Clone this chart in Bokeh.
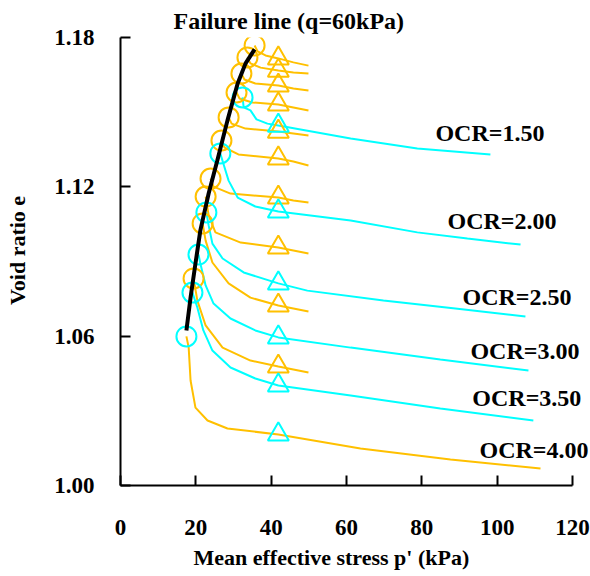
from bokeh.plotting import figure
from bokeh.models import Label, FixedTicker, NumeralTickFormatter, Range1d, Title
from bokeh.embed import file_html
from bokeh.resources import INLINE

# ---------------- data (p' in kPa, e) ----------------
# failure line (q = 60 kPa)
fail_p = [17.5, 18.6, 19.9, 21.2, 23.4, 25.7, 28.4, 31.1, 33.2, 35.6]
fail_e = [1.0623, 1.0755, 1.0892, 1.1025, 1.1173, 1.1306, 1.1467, 1.1615, 1.1696, 1.1752]

# cyan (long) curves, labelled by OCR
ocr150_p = [32.4, 32.7, 34.5, 36.1, 39.0, 41.9, 61.1, 78.8, 98.2]
ocr150_e = [1.1559, 1.1519, 1.1507, 1.1471, 1.1454, 1.1446, 1.1394, 1.1354, 1.1330]
ocr200_p = [26.5, 27.3, 28.7, 31.1, 35.8, 41.9, 61.1, 78.8, 92.1, 106.2]
ocr200_e = [1.1334, 1.1294, 1.1225, 1.1157, 1.1121, 1.1101, 1.1065, 1.1017, 1.0992, 1.0968]
ocr250_p = [22.8, 23.4, 24.4, 27.1, 32.7, 41.9, 49.6, 69.8, 88.9, 107.5]
ocr250_e = [1.1097, 1.1045, 1.0972, 1.0912, 1.0856, 1.0812, 1.0783, 1.0743, 1.0711, 1.0679]
ocr300_p = [20.7, 21.2, 22.6, 24.7, 29.2, 35.8, 41.9, 61.1, 84.9, 108.3]
ocr300_e = [1.0928, 1.0892, 1.0804, 1.0731, 1.0671, 1.0623, 1.0595, 1.0554, 1.0506, 1.0462]
ocr350_p = [19.1, 20.4, 22.0, 24.4, 29.2, 35.8, 41.9, 61.1, 84.9, 109.6]
ocr350_e = [1.0775, 1.0715, 1.0623, 1.0542, 1.0474, 1.0430, 1.0402, 1.0362, 1.0309, 1.0261]
# OCR = 4.00 (drawn in gold)
ocr400_p = [17.5, 18.1, 18.6, 19.9, 23.1, 28.4, 41.9, 63.7, 87.6, 111.5]
ocr400_e = [1.0599, 1.0554, 1.0422, 1.0313, 1.0261, 1.0229, 1.0205, 1.0149, 1.0104, 1.0068]

# gold (short) curves
g1_p = [35.6, 36.4, 38.5, 41.9, 45.9, 49.9]
g1_e = [1.1768, 1.1744, 1.1728, 1.1716, 1.1700, 1.1687]
g2_p = [33.7, 34.5, 37.2, 41.9, 45.9, 49.9]
g2_e = [1.1720, 1.1696, 1.1679, 1.1667, 1.1659, 1.1655]
g3_p = [32.1, 32.9, 35.8, 41.9, 45.9, 49.9]
g3_e = [1.1655, 1.1631, 1.1615, 1.1607, 1.1595, 1.1587]
g4_p = [30.8, 31.6, 35.0, 41.9, 45.9, 49.9]
g4_e = [1.1579, 1.1555, 1.1539, 1.1531, 1.1519, 1.1507]
g5_p = [28.7, 29.5, 33.2, 41.9, 45.9, 49.9]
g5_e = [1.1479, 1.1454, 1.1434, 1.1422, 1.1414, 1.1406]
g6_p = [26.8, 27.6, 31.3, 41.9, 45.9, 49.9]
g6_e = [1.1386, 1.1358, 1.1330, 1.1314, 1.1302, 1.1286]
g7_p = [23.9, 24.7, 29.2, 41.9, 45.9, 49.9]
g7_e = [1.1233, 1.1201, 1.1173, 1.1157, 1.1145, 1.1137]
g8_p = [22.6, 23.4, 25.2, 31.9, 41.9, 45.9, 49.9]
g8_e = [1.1161, 1.1085, 1.1017, 1.0976, 1.0956, 1.0944, 1.0932]
g9_p = [21.8, 22.6, 24.4, 28.7, 34.5, 41.9, 45.9, 49.9]
g9_e = [1.1053, 1.0984, 1.0896, 1.0812, 1.0755, 1.0723, 1.0711, 1.0699]
g10_p = [19.4, 20.4, 22.6, 27.1, 34.5, 41.9, 45.9, 49.9]
g10_e = [1.0832, 1.0743, 1.0643, 1.0554, 1.0502, 1.0478, 1.0466, 1.0454]

ocr_labels = ["OCR=1.50", "OCR=2.00", "OCR=2.50", "OCR=3.00", "OCR=3.50", "OCR=4.00"]
ocr_label_p = [83.6, 86.8, 90.8, 92.9, 93.4, 95.3]
ocr_label_e = [1.1415, 1.1061, 1.0759, 1.0542, 1.0353, 1.0144]

x_ticks = [0, 20, 40, 60, 80, 100, 120]
y_ticks = [1.00, 1.06, 1.12, 1.18]

GOLD = "#FFC000"
CYAN = "#00FFFF"
FONT = "Liberation Serif"

# frame extends a little past p'=120 so the OCR labels are not clipped;
# the x axis itself is bounded to 0..120
p = figure(width=590, height=576, x_range=Range1d(0, 124.24), y_range=Range1d(1.0, 1.18),
           output_backend="svg", toolbar_location=None,
           min_border_left=120, min_border_right=2, min_border_top=37, min_border_bottom=91)
p.title = Title(text="Failure line (q=60kPa)", align="left", offset=53, standoff=8,
                vertical_align="bottom",
                text_font=FONT, text_font_style="bold", text_font_size="24px",
                text_color="black")
p.xgrid.visible = False
p.ygrid.visible = False
p.outline_line_color = None
p.background_fill_color = "white"
p.border_fill_color = "white"

gold_curves = [(g1_p, g1_e), (g2_p, g2_e), (g3_p, g3_e), (g4_p, g4_e), (g5_p, g5_e),
               (g6_p, g6_e), (g7_p, g7_e), (g8_p, g8_e), (g9_p, g9_e), (g10_p, g10_e)]
cyan_curves = [(ocr150_p, ocr150_e), (ocr200_p, ocr200_e), (ocr250_p, ocr250_e),
               (ocr300_p, ocr300_e), (ocr350_p, ocr350_e)]

for xs, ys in gold_curves:
    p.line(xs, ys, line_color=GOLD, line_width=2)
p.line(ocr400_p, ocr400_e, line_color=GOLD, line_width=2)
for xs, ys in cyan_curves:
    p.line(xs, ys, line_color=CYAN, line_width=2)

def tri_point(xs, ys):
    i = xs.index(41.9)
    return xs[i], ys[i]

# markers: circles at the start (failure), triangles at p' = 41.9
gc_p = [c[0][0] for c in gold_curves]
gc_e = [c[1][0] for c in gold_curves]
gt = [tri_point(*c) for c in gold_curves]
cc_p = [c[0][0] for c in cyan_curves] + [ocr400_p[0]]
cc_e = [c[1][0] for c in cyan_curves] + [ocr400_e[0]]
ct = [tri_point(*c) for c in cyan_curves] + [tri_point(ocr400_p, ocr400_e)]

p.scatter(gc_p, gc_e, marker="circle", size=20, fill_color=None, line_color=GOLD, line_width=2)
p.scatter([t[0] for t in gt], [t[1] for t in gt], marker="triangle", size=21,
          fill_color=None, line_color=GOLD, line_width=2)
p.scatter(cc_p, cc_e, marker="circle", size=20, fill_color=None, line_color=CYAN, line_width=2)
p.scatter([t[0] for t in ct], [t[1] for t in ct], marker="triangle", size=21,
          fill_color=None, line_color=CYAN, line_width=2)

p.line(fail_p, fail_e, line_color="black", line_width=4)

# axes
p.xaxis.ticker = FixedTicker(ticks=x_ticks)
p.yaxis.ticker = FixedTicker(ticks=y_ticks)
p.yaxis.formatter = NumeralTickFormatter(format="0.00")
p.xaxis.bounds = (0, 120)
for ax in (p.xaxis[0], p.yaxis[0]):
    ax.axis_line_width = 2
    ax.axis_line_color = "black"
    ax.major_tick_line_width = 2
    ax.major_tick_line_color = "black"
    ax.major_tick_in = 10
    ax.major_tick_out = 0
    ax.minor_tick_in = 0
    ax.minor_tick_out = 0
    ax.major_label_text_font = FONT
    ax.major_label_text_font_style = "bold"
    ax.major_label_text_font_size = "23px"
    ax.major_label_text_color = "black"
    ax.axis_label_text_font = FONT
    ax.axis_label_text_font_style = "bold"
    ax.axis_label_text_font_size = "22px"
    ax.axis_label_text_color = "black"
p.xaxis.major_label_standoff = 34
p.yaxis.major_label_standoff = 26
# leading no-break spaces nudge the rotated label a little upwards, as in the reference
p.yaxis.axis_label = "\u00a0\u00a0\u00a0\u00a0Void ratio e"
p.yaxis.axis_label_standoff = 21

# x axis title as a title panel below the axis (keeps the frame where it is)
p.add_layout(Title(text="Mean effective stress p' (kPa)", align="left", offset=73, standoff=11,
                   vertical_align="bottom",
                   text_font=FONT, text_font_style="bold", text_font_size="22px",
                   text_color="black"), "below")

for t, x, y in zip(ocr_labels, ocr_label_p, ocr_label_e):
    p.add_layout(Label(x=x, y=y, text=t, text_font=FONT, text_font_style="bold",
                       text_font_size="24px", text_color="black", text_align="left",
                       text_baseline="alphabetic"))

open("out.html", "w").write(file_html(p, INLINE))
